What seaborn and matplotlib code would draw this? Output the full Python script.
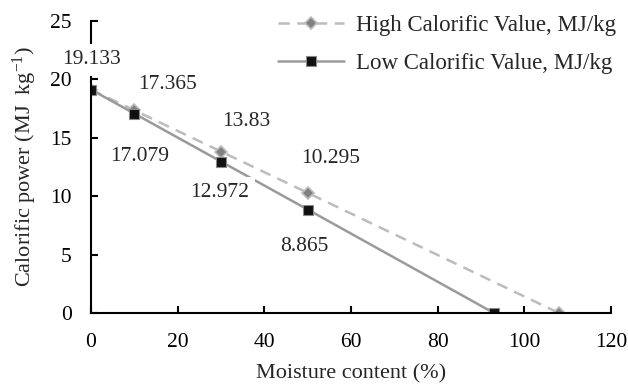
import pandas as pd
import seaborn as sns
import matplotlib.pyplot as plt

# data
moisture_high = [0, 10, 30, 50, 108]
high_values = [19.133, 17.365, 13.83, 10.295, 0]
moisture_low = [0, 10, 30, 50, 93]
low_values = [19.133, 17.079, 12.972, 8.865, 0]

high_labels = ['19.133', '17.365', '13.83', '10.295']
low_labels = ['', '17.079', '12.972', '8.865']

sns.set_style("ticks")
plt.rcParams['font.family'] = ['Liberation Serif', 'DejaVu Serif']
plt.rcParams['mathtext.default'] = 'regular'

df_high = pd.DataFrame({'x': moisture_high, 'y': high_values})
df_low = pd.DataFrame({'x': moisture_low, 'y': low_values})

fig = plt.figure(figsize=(6.28, 3.87), dpi=100)
ax = fig.add_axes([0.145, 0.191, 0.828, 0.7545])

sns.lineplot(data=df_high, x='x', y='y', ax=ax, color='#bcbcbc', linestyle=(0, (4.5, 3)),
             linewidth=1.8, marker='D', markersize=6, markerfacecolor='#808080',
             markeredgecolor='#bcbcbc', markeredgewidth=1.2, label='High Calorific Value, MJ/kg')
sns.lineplot(data=df_low, x='x', y='y', ax=ax, color='#9a9a9a', linewidth=1.8,
             marker='s', markersize=7.5, markerfacecolor='#111111', markeredgecolor='#888888',
             markeredgewidth=0.8, label='Low Calorific Value, MJ/kg')

# label offsets (points) relative to each marker
high_offsets = [(0, 21.6), (23.8, 18.7), (18, 21.6), (16.6, 24.5)]
low_offsets = [(0, 0), (3.6, -31), (-1.4, -22.3), (-2.2, -26.6)]
# white label boxes hide the lines / spine behind them, like the excel data labels
bbox = dict(boxstyle='square,pad=0.3', facecolor='white', edgecolor='none')
for xv, yv, txt, off in zip(moisture_high, high_values, high_labels, high_offsets):
    ax.annotate(txt, (xv, yv), xytext=off, textcoords='offset points',
                ha='center', va='center', fontsize=15.5, bbox=bbox, zorder=3)
for xv, yv, txt, off in zip(moisture_low, low_values, low_labels, low_offsets):
    if txt:
        ax.annotate(txt, (xv, yv), xytext=off, textcoords='offset points',
                    ha='center', va='center', fontsize=15.5, bbox=bbox, zorder=3)

ax.set_xlim(0, 120)
ax.set_ylim(0, 25)
ax.set_xticks(range(0, 121, 20))
ax.set_yticks(range(0, 26, 5))
ax.tick_params(direction='in', length=5, width=1.5, labelsize=15.5, colors='black')
ax.tick_params(axis='x', pad=14)
ax.tick_params(axis='y', pad=14)
for s in ['left', 'bottom']:
    ax.spines[s].set_linewidth(1.5)
    ax.spines[s].set_color('black')
sns.despine(ax=ax)
ax.yaxis.set_zorder(3.5)
ax.set_xlabel('Moisture content (%)', fontsize=16, labelpad=9.5)
ax.set_ylabel('Calorific power (MJ  kg$^{-1}$)', fontsize=16, labelpad=8)

ax.get_legend().remove()
handles, labels = ax.get_legend_handles_labels()
fig.legend(handles, labels, loc='upper left', bbox_to_anchor=(278 / 628, 1 - 14.5 / 387),
           frameon=False, fontsize=16.5, handlelength=2.9, labelspacing=0.75,
           handletextpad=0.5, borderpad=0, borderaxespad=0)

fig.savefig('out.png', dpi=100)
